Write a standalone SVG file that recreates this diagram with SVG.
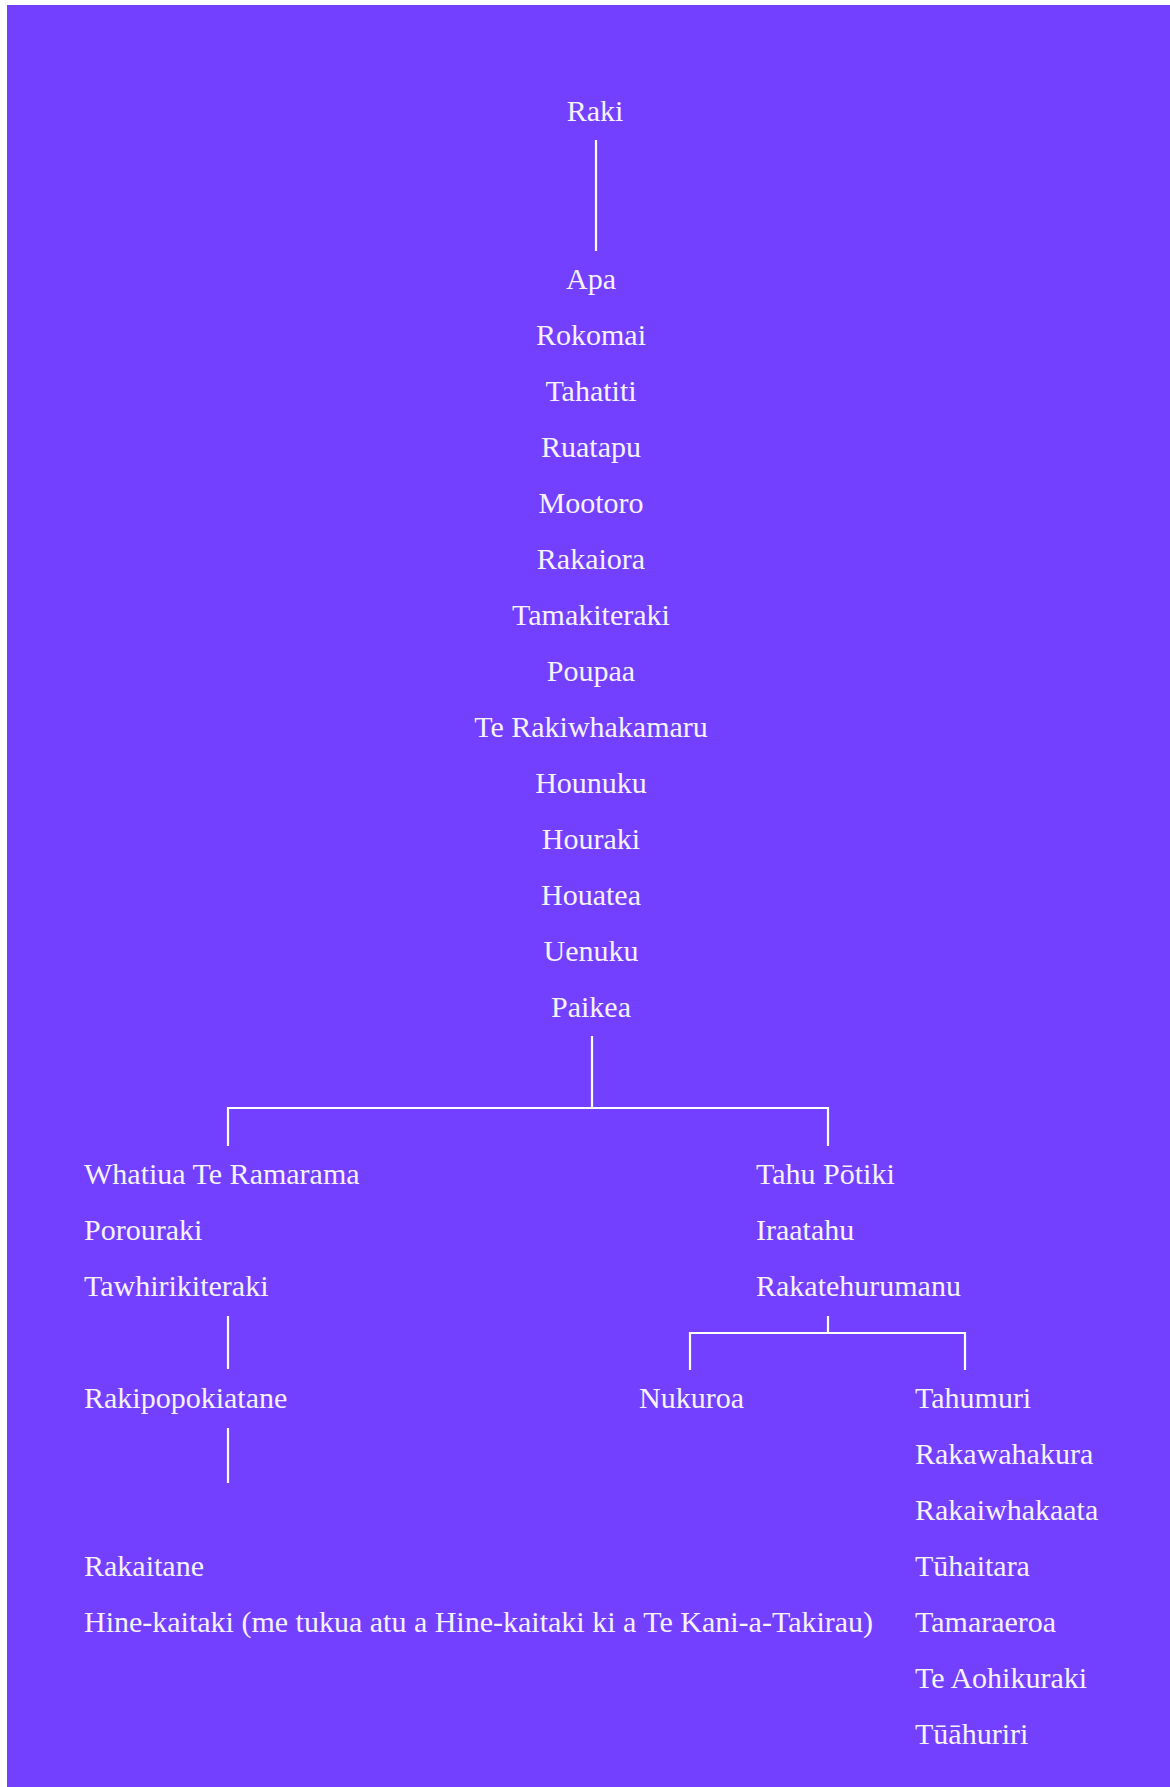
<svg xmlns="http://www.w3.org/2000/svg" width="1170" height="1787" viewBox="0 0 1170 1787">
<style>
text{font-family:"Liberation Serif","DejaVu Serif",serif;font-size:30px;fill:#f6f2ff}
.c{text-anchor:middle}
.ln{stroke:#ffffff;stroke-width:2.2;fill:none}
</style>
<rect x="0" y="0" width="1170" height="1787" fill="#ffffff"/>
<rect x="7" y="5" width="1163" height="1782" fill="#7440ff"/>
<g id="connectors">
<path class="ln" d="M596,140V251"/>
<path class="ln" d="M592,1036V1108M228,1146V1108H828V1146"/>
<path class="ln" d="M228,1316V1369"/>
<path class="ln" d="M228,1428V1483"/>
<path class="ln" d="M828,1316V1333M690,1370V1333H965V1370"/>
</g>
<g id="n-raki"><text class="c" x="595" y="121">Raki</text></g>
<g id="n-line1">
<text class="c" x="591" y="289">Apa</text>
<text class="c" x="591" y="345">Rokomai</text>
<text class="c" x="591" y="401">Tahatiti</text>
<text class="c" x="591" y="457">Ruatapu</text>
<text class="c" x="591" y="513">Mootoro</text>
<text class="c" x="591" y="569">Rakaiora</text>
<text class="c" x="591" y="625">Tamakiteraki</text>
<text class="c" x="591" y="681">Poupaa</text>
<text class="c" x="591" y="737">Te Rakiwhakamaru</text>
<text class="c" x="591" y="793">Hounuku</text>
<text class="c" x="591" y="849">Houraki</text>
<text class="c" x="591" y="905">Houatea</text>
<text class="c" x="591" y="961">Uenuku</text>
<text class="c" x="591" y="1017">Paikea</text>
</g>
<g id="n-whatiua">
<text x="84" y="1184">Whatiua Te Ramarama</text>
<text x="84" y="1240">Porouraki</text>
<text x="84" y="1296">Tawhirikiteraki</text>
</g>
<g id="n-rakipopokiatane"><text x="84" y="1408">Rakipopokiatane</text></g>
<g id="n-rakaitane">
<text x="84" y="1576">Rakaitane</text>
<text x="84" y="1632">Hine-kaitaki (me tukua atu a Hine-kaitaki ki a Te Kani-a-Takirau)</text>
</g>
<g id="n-tahu">
<text x="756" y="1184">Tahu Pōtiki</text>
<text x="756" y="1240">Iraatahu</text>
<text x="756" y="1296">Rakatehurumanu</text>
</g>
<g id="n-nukuroa"><text x="639" y="1408">Nukuroa</text></g>
<g id="n-tahumuri">
<text x="915" y="1408">Tahumuri</text>
<text x="915" y="1464">Rakawahakura</text>
<text x="915" y="1520">Rakaiwhakaata</text>
<text x="915" y="1576">Tūhaitara</text>
<text x="915" y="1632">Tamaraeroa</text>
<text x="915" y="1688">Te Aohikuraki</text>
<text x="915" y="1744">Tūāhuriri</text>
</g>
</svg>
